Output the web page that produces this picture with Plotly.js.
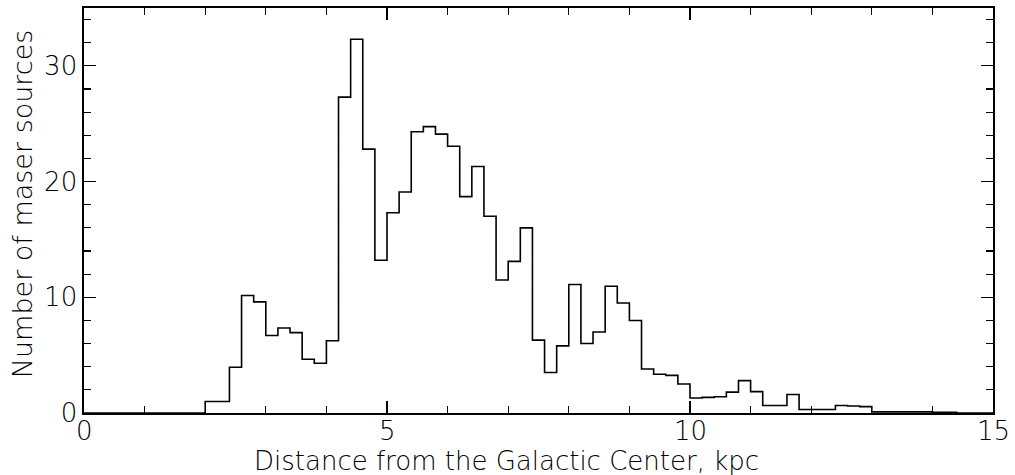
<!DOCTYPE html>
<html>
<head>
<meta charset="utf-8">
<script src="https://cdn.plot.ly/plotly-3.0.1.min.js"></script>
<style>
html,body{margin:0;padding:0;background:#fff;}
#chart{width:1015px;height:475px;}
</style>
</head>
<body>
<div id="chart"></div>
<script>
// Histogram: bin width 0.2 kpc, starting at 0 kpc
var binStart = 0;
var binWidth = 0.2;
var counts = [
  0, 0, 0, 0, 0, 0, 0, 0, 0, 0,
  1.0, 1.0, 3.95, 10.15, 9.6, 6.7, 7.35, 6.95, 4.65, 4.3,
  6.25, 27.3, 32.3, 22.8, 13.2, 17.3, 19.1, 24.3, 24.75, 24.1,
  23.05, 18.7, 21.3, 17.0, 11.5, 13.1, 16.0, 6.3, 3.5, 5.8,
  11.1, 6.0, 7.0, 10.95, 9.5, 8.0, 3.8, 3.35, 3.25, 2.5,
  1.3, 1.35, 1.4, 1.8, 2.8, 1.85, 0.65, 0.65, 1.6, 0.3,
  0.3, 0.3, 0.65, 0.6, 0.55, 0.1, 0.1, 0.1, 0.1, 0.1,
  0.05, 0.05, 0, 0, 0
];
var xTickVals = [0, 5, 10, 15];
var xTickText = ['0', '5', '10', '15'];
var yTickVals = [0, 10, 20, 30];
var yTickText = ['0', '10', '20', '30'];
var xTitle = 'Distance from the Galactic Center, kpc';
var yTitle = 'Number of maser sources';

var edges = [], ys = [];
for (var i = 0; i < counts.length; i++) {
  edges.push(binStart + i * binWidth);
  ys.push(counts[i]);
}
edges.push(binStart + counts.length * binWidth);
ys.push(counts[counts.length - 1]);

var font = {family: 'DejaVu Sans, sans-serif', color: '#000', weight: 200};

var trace = {
  x: edges, y: ys, type: 'scatter', mode: 'lines',
  line: {shape: 'hv', color: '#000', width: 1.6},
  hoverinfo: 'skip'
};

var annotations = [
  {text: xTitle, xref: 'paper', yref: 'paper', x: 0.465, y: -0.118,
   xanchor: 'center', yanchor: 'middle', showarrow: false, borderpad: 0,
   font: Object.assign({size: 26}, font)},
  {text: yTitle, xref: 'paper', yref: 'paper', x: -0.068, y: 0.516,
   xanchor: 'center', yanchor: 'middle', showarrow: false, textangle: -90,
   font: Object.assign({size: 27}, font)}
];
for (var k = 0; k < xTickVals.length; k++) {
  annotations.push({
    text: xTickText[k], xref: 'x', yref: 'paper', x: xTickVals[k], y: -0.004,
    xanchor: 'center', yanchor: 'top', showarrow: false, borderpad: 0,
    font: Object.assign({size: 26}, font)
  });
}

var layout = {
  width: 1015, height: 475,
  margin: {l: 84, r: 22, t: 8, b: 62},
  paper_bgcolor: '#fff', plot_bgcolor: '#fff',
  showlegend: false,
  xaxis: {
    range: [0, 15], tickmode: 'array', tickvals: xTickVals, ticktext: xTickText,
    showticklabels: false,
    ticks: 'inside', ticklen: 12, tickwidth: 1.2, tickcolor: '#000',
    minor: {dtick: 1, ticks: 'inside', ticklen: 7, tickwidth: 1.2, tickcolor: '#000', showgrid: false},
    showline: true, linecolor: '#000', linewidth: 1.6, mirror: 'ticks',
    showgrid: false, zeroline: false
  },
  yaxis: {
    range: [0, 35], tickmode: 'array', tickvals: yTickVals, ticktext: yTickText,
    ticks: 'inside', ticklen: 12, tickwidth: 1.2, tickcolor: '#000',
    minor: {dtick: 2, ticks: 'inside', ticklen: 7, tickwidth: 1.2, tickcolor: '#000', showgrid: false},
    showline: true, linecolor: '#000', linewidth: 1.6, mirror: 'ticks',
    showgrid: false, zeroline: false,
    tickfont: Object.assign({size: 26}, font)
  },
  annotations: annotations
};

Plotly.newPlot('chart', [trace], layout, {staticPlot: true, displayModeBar: false});
</script>
</body>
</html>
